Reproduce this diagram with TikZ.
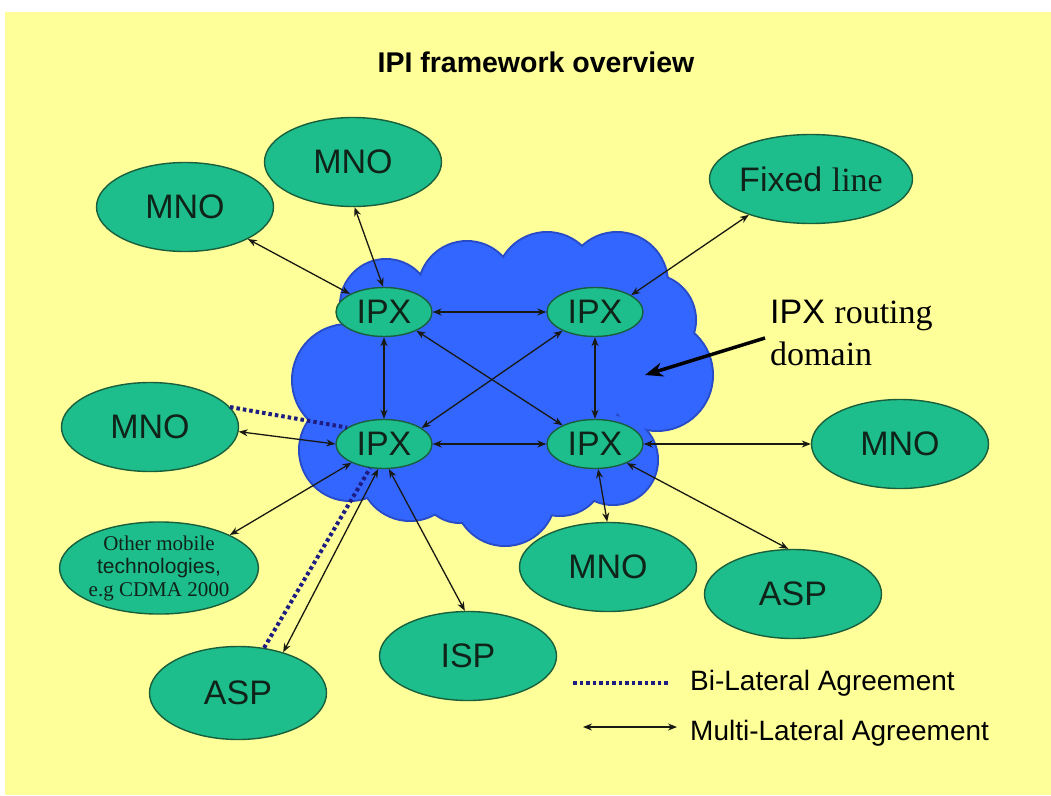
\documentclass[tikz,border=0pt]{standalone}
\usepackage{fontspec}
\setmainfont{Liberation Sans}
\newfontfamily\tms{Liberation Serif}
\usetikzlibrary{shapes.geometric,arrows.meta}
\definecolor{bgy}{RGB}{255,255,153}
\definecolor{ellfill}{RGB}{30,190,140}
\definecolor{ellline}{RGB}{25,95,60}
\definecolor{txtc}{RGB}{15,35,25}
\definecolor{cloudfill}{RGB}{51,102,255}
\definecolor{cloudline}{RGB}{40,75,200}
\definecolor{lnc}{RGB}{25,25,20}
\definecolor{blc}{RGB}{30,30,130}
\tikzset{
  ell/.style={ellipse, draw=ellline, fill=ellfill, line width=1.4pt, inner sep=0pt,
    minimum width=177pt, minimum height=89pt, text=txtc,
    font=\fontsize{34}{38}\selectfont},
  ipx/.style={ell, minimum width=96pt, minimum height=49pt},
  ml/.style={draw=lnc, line width=1.3pt,
    arrows={Stealth[length=9pt,width=7pt]-Stealth[length=9pt,width=7pt]}},
  bl/.style={draw=blc, line width=4pt, dash pattern=on 3.5pt off 3pt},
  lbl/.style={text=black, inner sep=0pt},
}
\begin{document}
\begin{tikzpicture}[x=1pt,y=-1pt]
\useasboundingbox (0,0) rectangle (1051,795);
\fill[white] (0,0) rectangle (1051,795);
\fill[bgy] (5,12) rectangle (1051,795);

% title
\node[lbl, font=\bfseries\fontsize{28.5}{32}\selectfont] (title) at (536,62) {IPI framework overview};

% cloud
\foreach \cx/\cy/\r in {386/305/45, 467/290/48, 547/283/50, 617/283/50, 650/320/45,
  657/375/55, 613/460/44, 505/495/50, 410/470/50, 350/450/50, 348/380/55,
  500/385/120, 560/470/45, 460/482/40}
  {\draw[cloudline, line width=4pt] (\cx,\cy) circle[radius=\r pt];}
\foreach \cx/\cy/\r in {386/305/45, 467/290/48, 547/283/50, 617/283/50, 650/320/45,
  657/375/55, 613/460/44, 505/495/50, 410/470/50, 350/450/50, 348/380/55,
  500/385/120, 560/470/45, 460/482/40}
  {\fill[cloudfill] (\cx,\cy) circle[radius=\r pt];}

% nodes
\node[ell] (mnoTL) at (185,207) {MNO};
\node[ell] (mnoT) at (353,162) {MNO};
\node[ell] (fixed) at (811,179) {Fixed {\tms line}};
\node[ipx] (ipxTL) at (384,312) {IPX};
\node[ipx] (ipxTR) at (595,312) {IPX};
\node[ipx] (ipxBL) at (384,444) {IPX};
\node[ipx] (ipxBR) at (595,444) {IPX};
\node[ell] (mnoL) at (150,427) {MNO};
\node[ell, align=center, font=\fontsize{21}{23}\selectfont] (other) at (159,568)
  {{\tms Other mobile}\\technologies,\\{\tms e.g CDMA 2000}};
\node[ell, minimum height=93pt] (aspL) at (238,693) {ASP};
\node[ell] (isp) at (468,656) {ISP};
\node[ell] (mnoB) at (608,567) {MNO};
\node[ell] (aspR) at (793,594) {ASP};
\node[ell] (mnoR) at (900,444) {MNO};

% routing domain label
\node[lbl, anchor=base west, font=\fontsize{34}{38}\selectfont] (rdA) at (770,323) {IPX {\tms routing}};
\node[lbl, anchor=base west, font=\tms\fontsize{34}{38}\selectfont] (rdB) at (770,365) {domain};
\coordinate (rdS) at (765,338);
\coordinate (rdE) at (645,375);
\draw[black, line width=3.5pt, arrows={-Stealth[length=18pt,width=14pt]}] (rdS) -- (rdE);

% bilateral (dotted)
\draw[bl] (mnoL.14) -- (ipxBL.156);
\draw[bl] (aspL.60) -- (ipxBL.240);

% multilateral connectors
\draw[ml] (mnoTL.-27) -- (ipxTL.152);
\draw[ml] (mnoT.-88) -- (ipxTL.92);
\draw[ml] (fixed.210) -- (ipxTR.25);
\draw[ml] (ipxTL.east) -- (ipxTR.west);
\draw[ml] (ipxTL.south) -- (ipxBL.north);
\draw[ml] (ipxTR.south) -- (ipxBR.north);
\draw[ml] (ipxBL.east) -- (ipxBR.west);
\draw[ml] (ipxTL.-30) -- (ipxBR.150);
\draw[ml] (ipxTR.210) -- (ipxBL.23);
\draw[ml] (mnoL.-3) -- (ipxBL.180);
\draw[ml] (other.25) -- (ipxBL.210);
\draw[ml] (aspL.42) -- (ipxBL.257);
\draw[ml] (isp.94) -- (ipxBL.-79);
\draw[ml] (ipxBR.east) -- (mnoR.west);
\draw[ml] (ipxBR.-31) -- (aspR.96);
\draw[ml] (ipxBR.-83) -- (mnoB.91);

% legend
\coordinate (lgA) at (573,683);
\coordinate (lgB) at (670,683);
\coordinate (lgC) at (583,727);
\coordinate (lgD) at (677,727);
\draw[bl] (lgA) -- (lgB);
\draw[ml] (lgC) -- (lgD);
\node[lbl, anchor=base west, font=\fontsize{28}{32}\selectfont] (lgT1) at (690,690) {Bi-Lateral Agreement};
\node[lbl, anchor=base west, font=\fontsize{28}{32}\selectfont] (lgT2) at (690,740) {Multi-Lateral Agreement};
\end{tikzpicture}
\end{document}
